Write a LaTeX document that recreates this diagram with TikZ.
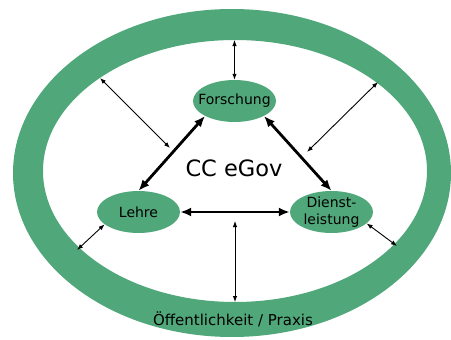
\documentclass[tikz,border=0pt]{standalone}
\usepackage{fontspec}
\setmainfont{DejaVu Sans}
\usetikzlibrary{shapes.geometric,arrows.meta}
\definecolor{ringgreen}{RGB}{80,168,122}
\begin{document}
\begin{tikzpicture}[x=1pt,y=-1pt,
  blob/.style={ellipse, fill=ringgreen, minimum width=83pt, minimum height=42pt,
    inner xsep=-10pt, inner ysep=-4pt, align=center, font=\fontsize{14}{17.5}\selectfont},
  lbl/.style={font=\fontsize{15}{17}\selectfont, inner sep=0pt},
  thinarr/.style={line width=0.9pt, {Latex[length=6pt,width=4.5pt]}-{Latex[length=6pt,width=4.5pt]}},
  thickarr/.style={line width=2.8pt, {Latex[length=11pt,width=9pt]}-{Latex[length=11pt,width=9pt]}}]
\useasboundingbox (0,0) rectangle (451,340);
\fill[ringgreen,even odd rule] (232,173) ellipse [x radius=219, y radius=164]
  (235,171) ellipse [x radius=192, y radius=131];
\node[blob] (F) at (234.5,101) {Forschung};
\node[blob] (L) at (138.5,212) {Lehre};
\node[blob] (D) at (331.5,212) {Dienst-\\leistung};
\node[font=\fontsize{22.5}{25}\selectfont, inner sep=0pt] (cc) at (234,168) {CC eGov};
\node[lbl] (oe) at (233,319) {Öffentlichkeit / Praxis};
\coordinate (rt) at (234.5,40);
\coordinate (rul) at (100,78);
\coordinate (rur) at (378,82);
\coordinate (rll) at (77,250);
\coordinate (rlr) at (397,246);
\coordinate (rb) at (235,302);
\coordinate (ul) at (170,148);
\coordinate (ur) at (307,152);
\coordinate (bm) at (235,221);
\draw[thinarr] (rt) -- (F.north);
\draw[thinarr] (rul) -- (ul);
\draw[thinarr] (rur) -- (ur);
\draw[thinarr] (L.200) -- (rll);
\draw[thinarr] (D.-18) -- (rlr);
\draw[thinarr] (bm) -- (rb);
\draw[thickarr] (F.south west) -- (L.north);
\draw[thickarr] (F.south east) -- (D.north);
\draw[thickarr] (L.east) -- (D.west);
\end{tikzpicture}
\end{document}
